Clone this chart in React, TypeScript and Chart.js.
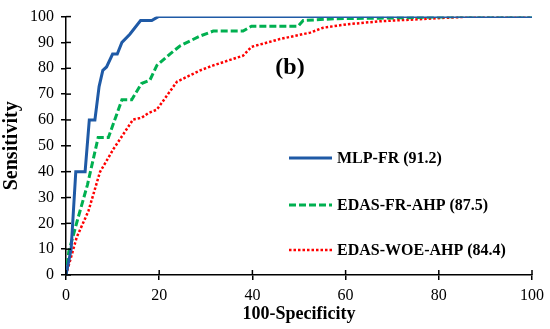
import React, { useEffect, useRef } from "react";
import { Chart, registerables } from "chart.js";

Chart.register(...registerables);

const xTicks = [0, 20, 40, 60, 80, 100];
const yTicks = [0, 10, 20, 30, 40, 50, 60, 70, 80, 90, 100];

const seriesLabels = ["MLP-FR (91.2)", "EDAS-FR-AHP (87.5)", "EDAS-WOE-AHP (84.4)"];

const mlpX = [0, 1.1, 2.1, 4.1, 5.0, 6.2, 7.1, 7.9, 8.7, 10, 11, 12, 13.7, 16, 18.4, 19.8, 100];
const mlpY = [0, 10, 40, 40, 60, 60, 72.9, 79.2, 80.5, 85.5, 85.5, 90, 93.2, 98.5, 98.5, 100, 100];

const frX = [0, 0.6, 2.4, 4.6, 6.9, 9.1, 12, 14.1, 16.2, 18, 19.5, 22.3, 24.5, 28.8, 31.6, 38, 39.8, 49.8, 50.9, 58.1, 67.4, 84.5, 100];
const frY = [0, 9, 20.9, 34.9, 53.2, 53.2, 67.8, 67.8, 74.1, 75.4, 81.1, 85.5, 88.7, 92.5, 94.4, 94.4, 96.3, 96.3, 98.5, 99.2, 99.4, 100, 100];

const woeX = [0, 2.3, 4.8, 7.3, 10.2, 14.4, 16.2, 17.7, 19.5, 23.8, 28.8, 31.6, 38, 39.8, 45.9, 52.4, 55.2, 60.2, 67.4, 86.5, 100];
const woeY = [0, 14.6, 24.7, 39.9, 48.8, 60.2, 60.8, 62.7, 64, 74.8, 79.2, 81.1, 84.9, 88.3, 91.3, 93.8, 95.7, 97, 98.2, 100, 100];

const colors = ["#1F5AA6", "#00B050", "#FF0000"];
const FONT = "'Liberation Serif', 'Times New Roman', serif";

const toPts = (xs: number[], ys: number[]) => xs.map((x, i) => ({ x, y: ys[i] }));

const overlayPlugin = {
  id: "overlay",
  afterDraw(chart: any) {
    const ctx = chart.ctx;
    const area = chart.chartArea;
    const xs = chart.scales.x;
    const ys = chart.scales.y;
    ctx.save();
    // inner tick marks
    ctx.strokeStyle = "#000";
    ctx.lineWidth = 1.5;
    ctx.setLineDash([]);
    xTicks.forEach((v) => {
      const px = xs.getPixelForValue(v);
      ctx.beginPath();
      ctx.moveTo(px, area.bottom);
      ctx.lineTo(px, area.bottom - 5);
      ctx.stroke();
    });
    yTicks.forEach((v) => {
      const py = ys.getPixelForValue(v);
      ctx.beginPath();
      ctx.moveTo(area.left, py);
      ctx.lineTo(area.left + 5, py);
      ctx.stroke();
    });
    // legend
    const legendYs = [158, 205, 250];
    chart.data.datasets.forEach((ds: any, i: number) => {
      const y = legendYs[i];
      ctx.beginPath();
      ctx.strokeStyle = ds.borderColor;
      ctx.lineWidth = ds.borderWidth;
      ctx.lineCap = ds.borderCapStyle || "butt";
      ctx.setLineDash(ds.borderDash || []);
      ctx.moveTo(289, y);
      ctx.lineTo(332, y);
      ctx.stroke();
      ctx.setLineDash([]);
      ctx.fillStyle = "#000";
      ctx.font = "bold 16px " + FONT;
      ctx.textAlign = "left";
      ctx.textBaseline = "middle";
      ctx.fillText(ds.label, 337, y + 1);
    });
    // panel label
    ctx.font = "bold 24px " + FONT;
    ctx.textAlign = "center";
    ctx.textBaseline = "middle";
    ctx.fillStyle = "#000";
    ctx.fillText("(b)", 290, 68);
    ctx.restore();
  },
};

export default function App() {
  const ref = useRef<HTMLCanvasElement>(null);
  useEffect(() => {
    if (!ref.current) return;
    const chart = new Chart(ref.current, {
      type: "line",
      data: {
        datasets: [
          {
            label: seriesLabels[0],
            data: toPts(mlpX, mlpY),
            borderColor: colors[0],
            borderWidth: 3,
            pointRadius: 0,
            fill: false,
            tension: 0,
          },
          {
            label: seriesLabels[1],
            data: toPts(frX, frY),
            borderColor: colors[1],
            borderWidth: 3,
            borderDash: [7, 3],
            pointRadius: 0,
            fill: false,
            tension: 0,
          },
          {
            label: seriesLabels[2],
            data: toPts(woeX, woeY),
            borderColor: colors[2],
            borderWidth: 2.5,
            borderDash: [2.5, 2],
            pointRadius: 0,
            fill: false,
            tension: 0,
          },
        ],
      },
      options: {
        responsive: false,
        animation: false,
        devicePixelRatio: 1,
        layout: { padding: { top: 12, right: 18, left: 0, bottom: 0 } },
        plugins: { legend: { display: false }, tooltip: { enabled: false } },
        scales: {
          x: {
            type: "linear",
            min: 0,
            max: 100,
            afterFit: (s: any) => { s.height = 54; },
            afterBuildTicks: (s: any) => { s.ticks = xTicks.map((v) => ({ value: v })); },
            ticks: { color: "#000", font: { family: FONT, size: 16 }, padding: 6, maxRotation: 0 },
            grid: { display: true, drawOnChartArea: false, drawTicks: true, tickLength: 5, color: "#000", lineWidth: 1.5 },
            border: { display: true, color: "#000", width: 1.5 },
            title: { display: true, text: "100-Specificity", color: "#000", font: { family: FONT, size: 18, weight: "bold" }, padding: { top: 0, bottom: 4 } },
          },
          y: {
            type: "linear",
            min: 0,
            max: 100,
            afterFit: (s: any) => { s.width = 66; },
            afterBuildTicks: (s: any) => { s.ticks = yTicks.map((v) => ({ value: v })); },
            ticks: { color: "#000", font: { family: FONT, size: 16 }, padding: 7 },
            grid: { display: true, drawOnChartArea: false, drawTicks: true, tickLength: 5, color: "#000", lineWidth: 1.5 },
            border: { display: true, color: "#000", width: 1.5 },
            title: { display: true, text: "Sensitivity", color: "#000", font: { family: FONT, size: 20, weight: "bold" }, padding: { top: 0, bottom: 0 } },
          },
        },
      },
      plugins: [overlayPlugin],
    } as any);
    return () => chart.destroy();
  }, []);
  return (
    <div style={{ position: "absolute", left: 0, top: 0, width: 550, height: 329 }}>
      <canvas ref={ref} width={550} height={329} />
    </div>
  );
}
